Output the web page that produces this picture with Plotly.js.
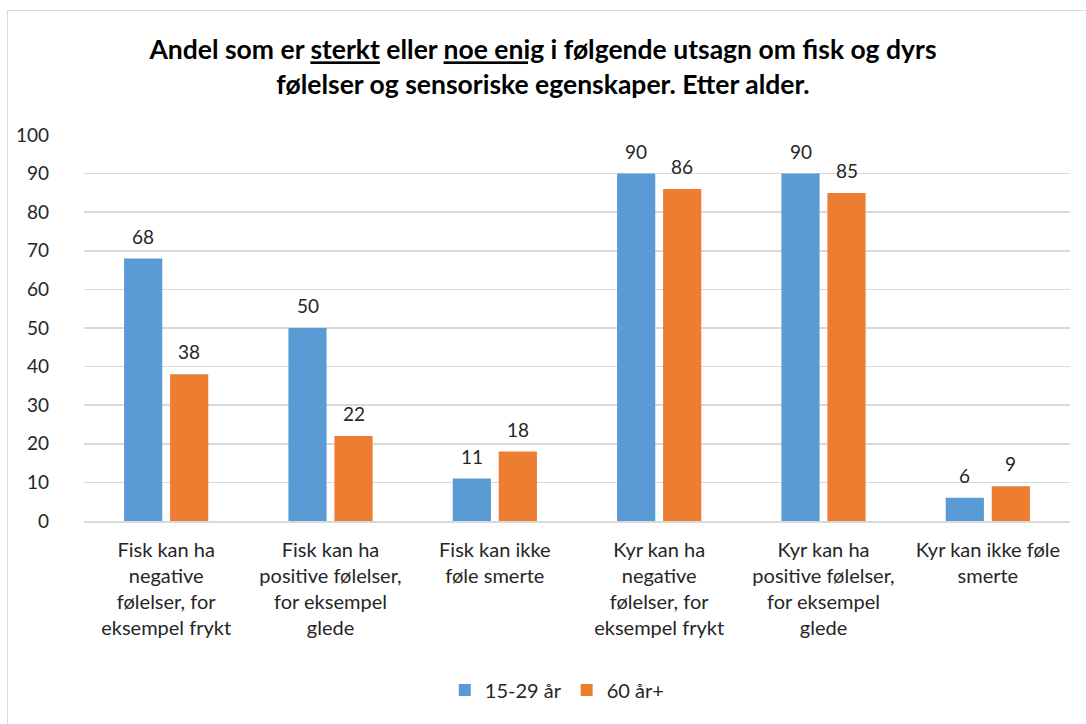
<!DOCTYPE html>
<html><head><meta charset="utf-8">
<script src="https://cdn.plot.ly/plotly-3.0.1.min.js"></script>
<style>
html,body{margin:0;padding:0;background:#fff;}
#wrap{position:relative;width:1086px;height:724px;overflow:hidden;}
#chart{position:absolute;left:0;top:0;width:1086px;height:724px;}
#border{position:absolute;left:7px;top:10px;width:1200px;height:800px;border:1.5px solid #D9D9D9;pointer-events:none;z-index:5;}
</style></head>
<body><div id="wrap"><div id="chart"></div><div id="border"></div></div>
<script>
const categories = [
  "Fisk kan ha<br>negative<br>følelser, for<br>eksempel frykt",
  "Fisk kan ha<br>positive følelser,<br>for eksempel<br>glede",
  "Fisk kan ikke<br>føle smerte",
  "Kyr kan ha<br>negative<br>følelser, for<br>eksempel frykt",
  "Kyr kan ha<br>positive følelser,<br>for eksempel<br>glede",
  "Kyr kan ikke føle<br>smerte"
];
const young = [68, 50, 11, 90, 90, 6];
const old = [38, 22, 18, 86, 85, 9];
const seriesNames = ["15-29 år", "60 år+"];
const yTicks = [0,10,20,30,40,50,60,70,80,90,100];

const font = "Lato, Carlito, Calibri, sans-serif";
const txt = '#262626';
const traces = [
  {type:'bar', name:seriesNames[0], x:categories, y:young, marker:{color:'#5B9BD5'}},
  {type:'bar', name:seriesNames[1], x:categories, y:old, marker:{color:'#ED7D31'}}
];
const annotations = [];
[young, old].forEach((vals, si) => {
  vals.forEach((v, i) => {
    annotations.push({x:categories[i], y:v, xref:'x', yref:'y', text:String(v), showarrow:false,
      xanchor:'center', yanchor:'bottom', xshift: si === 0 ? -23 : 23, yshift:9,
      font:{family:font,size:19,color:txt}});
  });
});
const layout = {
  width:1086, height:724,
  margin:{l:84, r:16, t:135, b:203},
  paper_bgcolor:'#fff', plot_bgcolor:'#fff',
  font:{family:font, size:18, color:txt},
  title:{text:'<b>Andel som er <span style="text-decoration:underline">sterkt</span> eller <span style="text-decoration:underline">noe enig</span> i følgende utsagn om fisk og dyrs<br>følelser og sensoriske egenskaper. Etter alder.</b>',
    x:0.5, xanchor:'center', y:0.918, yanchor:'top', font:{family:font,size:26.5,color:'#000'}},
  barmode:'group', bargap:0.44, bargroupgap:0.17,
  annotations: annotations,
  xaxis:{type:'category', tickfont:{family:font,size:20,color:txt}, showline:true, linecolor:'#D9D9D9', linewidth:1.5, ticks:'', ticklabelstandoff:10},
  yaxis:{range:[0,100], tickvals:yTicks, ticktext:yTicks.map(String), tickfont:{family:font,size:19,color:txt},
    showgrid:true, gridcolor:'#D9D9D9', gridwidth:1.5, zeroline:false, showline:false, ticks:'', ticklabelstandoff:34},
  legend:{orientation:'h', x:0.48, xanchor:'center', y:-0.438, yanchor:'middle', font:{family:font,size:20,color:txt}, itemwidth:30, traceorder:'normal'},
  showlegend:true
};
Plotly.newPlot('chart', traces, layout, {displayModeBar:false, staticPlot:true});
</script></body></html>
